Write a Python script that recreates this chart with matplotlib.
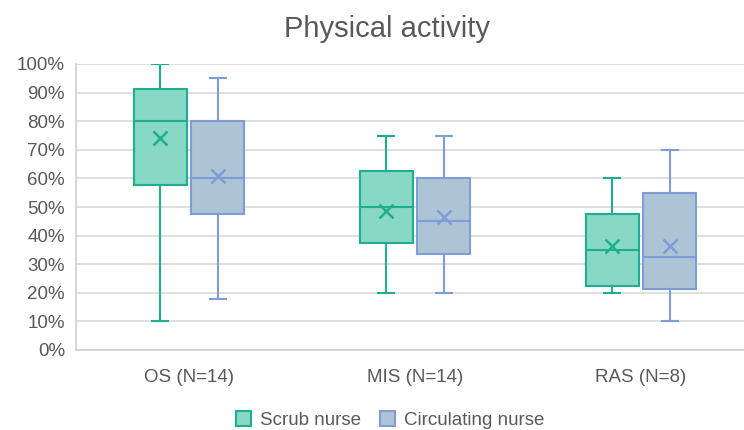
import matplotlib
matplotlib.use("Agg")
import matplotlib.pyplot as plt
import matplotlib.patches as mpatches
from matplotlib.ticker import PercentFormatter

plt.rcParams["font.family"] = ["Liberation Sans", "DejaVu Sans"]

categories = ["OS (N=14)", "MIS (N=14)", "RAS (N=8)"]
series = ["Scrub nurse", "Circulating nurse"]

# five-number summaries + mean (fractions)
scrub_min = [0.10, 0.20, 0.20]
scrub_q1 = [0.577, 0.373, 0.224]
scrub_med = [0.80, 0.50, 0.35]
scrub_q3 = [0.912, 0.626, 0.474]
scrub_max = [1.00, 0.75, 0.60]
scrub_mean = [0.743, 0.486, 0.364]

circ_min = [0.18, 0.20, 0.10]
circ_q1 = [0.476, 0.335, 0.213]
circ_med = [0.60, 0.45, 0.326]
circ_q3 = [0.80, 0.60, 0.549]
circ_max = [0.95, 0.75, 0.70]
circ_mean = [0.607, 0.464, 0.364]

face_colors = ["#88d8c6", "#adc4d6"]
edge_colors = ["#1fae91", "#7f9cd6"]


def make_stats(lo, q1, med, q3, hi, mean):
    return [
        dict(whislo=a, q1=b, med=c, q3=d, whishi=e, mean=f, fliers=[])
        for a, b, c, d, e, f in zip(lo, q1, med, q3, hi, mean)
    ]


fig = plt.figure(figsize=(7.44, 4.30), dpi=100)
W, H = 744, 430
ax = fig.add_axes([76 / W, (H - 350) / H, 678 / W, 286 / H])

groups = [
    make_stats(scrub_min, scrub_q1, scrub_med, scrub_q3, scrub_max, scrub_mean),
    make_stats(circ_min, circ_q1, circ_med, circ_q3, circ_max, circ_mean),
]
offsets = [-0.128, 0.128]

for stats, off, fc, ec in zip(groups, offsets, face_colors, edge_colors):
    pos = [i + off for i in range(len(categories))]
    ax.bxp(
        stats,
        positions=pos,
        widths=0.235,
        capwidths=0.07,
        showmeans=True,
        showfliers=False,
        patch_artist=True,
        boxprops=dict(facecolor=fc, edgecolor=ec, linewidth=1.5),
        medianprops=dict(color=ec, linewidth=1.5),
        whiskerprops=dict(color=ec, linewidth=1.5),
        capprops=dict(color=ec, linewidth=1.5),
        meanprops=dict(marker="x", markeredgecolor=ec, markersize=10,
                       markeredgewidth=1.8),
        zorder=3,
    )

ax.set_xlim(-0.5, len(categories) - 0.5)
ax.set_ylim(0, 1)
ax.set_yticks([i / 10 for i in range(11)])
ax.yaxis.set_major_formatter(PercentFormatter(1.0, decimals=0))
ax.set_xticks(range(len(categories)))
ax.set_xticklabels(categories)
ax.tick_params(axis="both", length=0, labelsize=13.5, colors="#595959")
ax.tick_params(axis="x", pad=14)
ax.tick_params(axis="y", pad=8)
ax.grid(axis="y", color="#d9d9d9", linewidth=1.2, zorder=0)
ax.set_axisbelow(True)
for side in ["top", "right"]:
    ax.spines[side].set_visible(False)
for side in ["left", "bottom"]:
    ax.spines[side].set_color("#d0d0d0")
    ax.spines[side].set_linewidth(1.2)

fig.text(387 / W, 1 - 29 / H, "Physical activity", ha="center", va="center",
         fontsize=21, color="#595959")

handles = [
    mpatches.Patch(facecolor=fc, edgecolor=ec, linewidth=1.5, label=s)
    for s, fc, ec in zip(series, face_colors, edge_colors)
]
fig.legend(handles=handles, loc="center", bbox_to_anchor=(390 / W, 1 - 420 / H),
           ncol=2, frameon=False, fontsize=13.5, handlelength=0.8,
           handleheight=0.8, handletextpad=0.5, columnspacing=1.0,
           labelcolor="#595959")

fig.savefig("out.png", dpi=100)
